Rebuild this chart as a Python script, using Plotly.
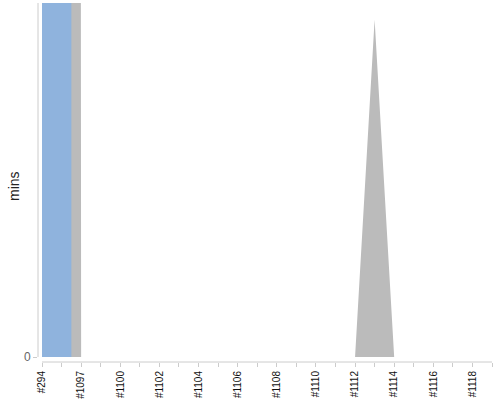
import plotly.graph_objects as go

# job ids along the x axis (only every other one is labelled)
jobs = ["#294", "#1096", "#1097", "#1099", "#1100", "#1101", "#1102", "#1103",
        "#1104", "#1105", "#1106", "#1107", "#1108", "#1109", "#1110", "#1111",
        "#1112", "#1113", "#1114", "#1115", "#1116", "#1117", "#1118", "#1119"]
labels = [j if i % 2 == 0 else "" for i, j in enumerate(jobs)]

# minutes per job
queued = [1800, 1800, 0, 0, 0, 0, 0, 0, 0, 0, 0, 0,
          0, 0, 0, 0, 0, 0, 0, 0, 0, 0, 0, 0]
total = [3000, 3000, 0, 0, 0, 0, 0, 0, 0, 0, 0, 0,
         0, 0, 0, 0, 0, 40, 0, 0, 0, 0, 0, 0]

fig = go.Figure()
fig.add_trace(go.Scatter(x=jobs, y=total, mode="lines", fill="tozeroy",
                         line=dict(width=0, color="#bbbbbb"),
                         fillcolor="#bbbbbb", name="total"))
fig.add_trace(go.Scatter(x=jobs, y=queued, mode="lines", fill="tozeroy",
                         line=dict(width=0, color="#8fb3dd", shape="hvh"),
                         fillcolor="#8fb3dd", name="queued"))

# axis lines drawn by hand so they don't meet in the corner
fig.add_shape(type="line", xref="paper", yref="paper", x0=0, x1=0, y0=0.014, y1=1,
              line=dict(color="#cccccc", width=1))
fig.add_shape(type="line", xref="x", yref="paper", x0=0, x1=23, y0=0, y1=0,
              line=dict(color="#cccccc", width=1))

# y title as annotation so it can sit a bit closer to the axis
fig.add_annotation(text="mins", textangle=-90, xref="paper", yref="paper",
                   x=-0.053, y=0.49, xanchor="center", yanchor="middle",
                   showarrow=False, font=dict(size=14, color="#222222"))

fig.update_layout(
    width=500, height=400,
    margin=dict(l=38, r=8, t=3, b=38, autoexpand=False),
    plot_bgcolor="white", paper_bgcolor="white",
    showlegend=False,
    font=dict(family="Liberation Sans, Arial", color="#222222"),
)
fig.update_xaxes(
    type="category", categoryorder="array", categoryarray=jobs,
    range=[-0.205, 23], tickmode="array", tickvals=jobs, ticktext=labels,
    tickangle=-90, ticks="outside", ticklen=4, tickcolor="#cccccc",
    tickfont=dict(size=10, color="#111111"), automargin=False,
    showgrid=False, zeroline=False, showline=False,
)
fig.update_yaxes(
    range=[-0.593, 42], tickvals=[0], ticks="outside", ticklen=4,
    tickcolor="#cccccc", tickfont=dict(size=12, color="#666666"),
    automargin=False,
    showgrid=False, zeroline=False, showline=False,
)

# page body has an 8px margin by default, drop it
fig.write_html("out.html", config={"displayModeBar": False},
               post_script="document.body.style.margin='0';")
